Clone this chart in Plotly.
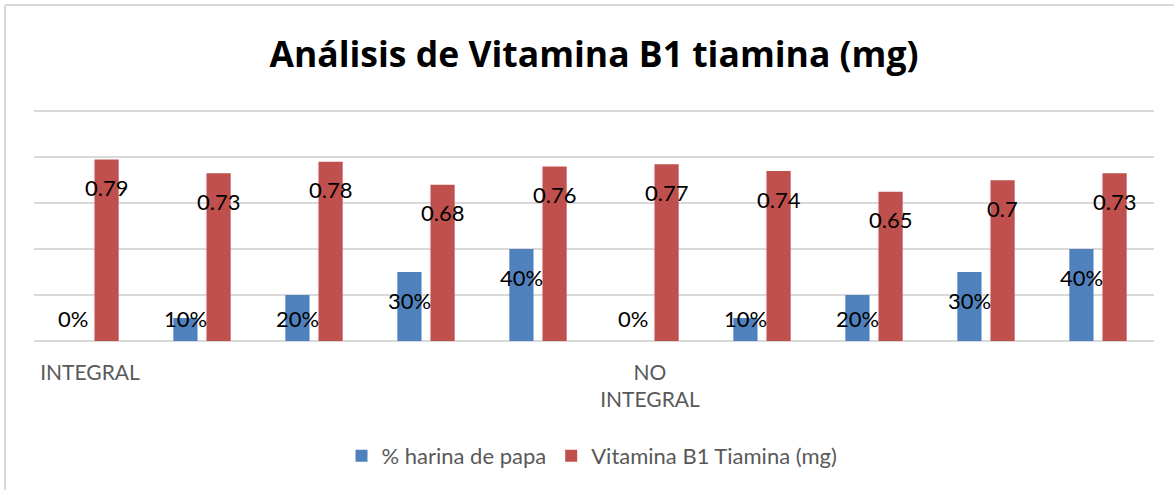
import plotly.graph_objects as go

# ---- data ----
tipo_labels = ["INTEGRAL", "", "", "", "", "NO<br>INTEGRAL", "", "", "", ""]
harina_papa = [0.0, 0.1, 0.2, 0.3, 0.4, 0.0, 0.1, 0.2, 0.3, 0.4]
vitamina_b1 = [0.79, 0.73, 0.78, 0.68, 0.76, 0.77, 0.74, 0.65, 0.70, 0.73]
series_names = ["% harina de papa", "Vitamina B1 Tiamina (mg)"]
title_text = "Análisis de Vitamina B1 tiamina (mg)"

# ---- style ----
W, H = 1174, 490
ML, MR, MT, MB = 34, 20, 109, 149
PW, PH = W - ML - MR, H - MT - MB
YMAX = 1.01
BLUE, RED = "#4F81BD", "#C0504D"
GRID = "#D9D9D9"
FONT = "Lato"
LABEL_DROP = 28 / PH * YMAX    # label centre below bar top (axis units)
LABEL_MIN = 23 / PH * YMAX     # lowest label centre above baseline

x = list(range(len(tipo_labels)))

fig = go.Figure()
fig.add_trace(go.Bar(x=x, y=harina_papa, name=series_names[0], marker_color=BLUE,
                     marker_line_width=0))
fig.add_trace(go.Bar(x=x, y=vitamina_b1, name=series_names[1], marker_color=RED,
                     marker_line_width=0))

annotations = []
slot = (1 - 0.408) / 2
for i, (h, v) in enumerate(zip(harina_papa, vitamina_b1)):
    for val, txt, off in ((h, f"{round(h*100)}%", -slot / 2), (v, f"{v:g}", slot / 2)):
        annotations.append(dict(
            x=i + off, y=max(val - LABEL_DROP, LABEL_MIN), xref="x", yref="y",
            text=txt, showarrow=False, xanchor="center", yanchor="middle",
            font=dict(family=FONT, size=22, color="#000000")))

def px_to_paper_x(px):
    return (px - ML) / PW

def px_to_paper_y(py):
    return (H - MB - py) / PH

shapes = [
    dict(type="line", xref="paper", yref="paper",
         x0=px_to_paper_x(5), x1=px_to_paper_x(W), y0=px_to_paper_y(5), y1=px_to_paper_y(5),
         line=dict(color=GRID, width=2)),
    dict(type="line", xref="paper", yref="paper",
         x0=px_to_paper_x(5), x1=px_to_paper_x(5), y0=px_to_paper_y(5), y1=px_to_paper_y(H),
         line=dict(color=GRID, width=2)),
]

fig.update_layout(
    width=W, height=H,
    margin=dict(l=ML, r=MR, t=MT, b=MB, pad=0),
    paper_bgcolor="white", plot_bgcolor="white",
    barmode="group", bargap=0.408, bargroupgap=0.27,
    title=dict(text=f"<b>{title_text}</b>", x=px_to_paper_x(594), xref="paper",
               xanchor="center", y=1 - 55 / H, yanchor="middle",
               font=dict(family="Open Sans", size=35.5, color="#000000")),
    xaxis=dict(tickmode="array", tickvals=x, ticktext=tipo_labels, range=[-0.5, 9.5],
               showgrid=False, zeroline=False, showline=False, ticks="",
               tickfont=dict(family=FONT, size=21, color="#595959"),
               ticklabelstandoff=17, automargin=False),
    yaxis=dict(range=[0, YMAX], dtick=0.2, showticklabels=False, showgrid=True,
               gridcolor=GRID, gridwidth=2, zeroline=True, zerolinecolor=GRID,
               zerolinewidth=2, showline=False, ticks="", automargin=False),
    legend=dict(orientation="h", x=px_to_paper_x(592), xanchor="center",
                y=px_to_paper_y(456), yanchor="middle",
                font=dict(family=FONT, size=22, color="#595959"),
                itemclick=False, traceorder="normal"),
    annotations=annotations,
    shapes=shapes,
    showlegend=True,
)

fig.write_html("out.html", config={"displayModeBar": False},
               post_script="document.body.style.margin='0px';document.body.style.padding='0px';")
